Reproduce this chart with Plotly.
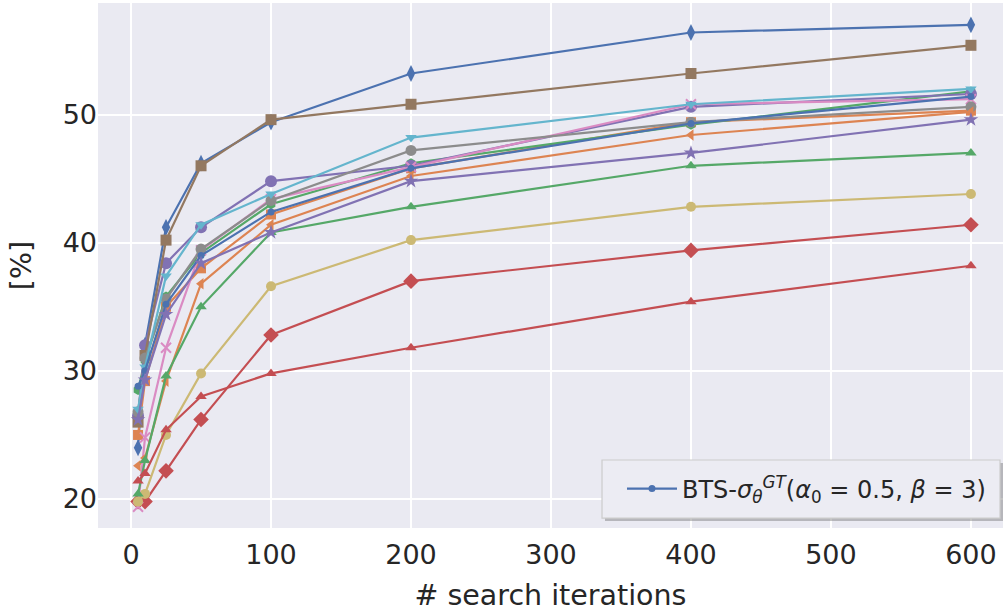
import plotly.graph_objects as go

iterations = [5, 10, 25, 50, 100, 200, 400, 600]

blue_d = [24.0, 32.0, 41.2, 46.2, 49.4, 53.2, 56.4, 57.0]
orange_sq = [25.0, 29.2, 35.0, 38.0, 42.2, 45.8, 49.4, 50.3]
green_h = [28.5, 30.8, 35.8, 39.2, 43.0, 46.2, 49.2, 51.8]
red_D = [19.8, 19.8, 22.2, 26.2, 32.8, 37.0, 39.4, 41.4]
purple_o = [26.5, 32.0, 38.4, 41.2, 44.8, 46.0, 50.6, 51.6]
brown_sq = [26.0, 31.2, 40.2, 46.0, 49.6, 50.8, 53.2, 55.4]
pink_x = [19.4, 24.8, 31.8, 39.4, 43.4, 45.9, 50.8, 51.2]
gray_o = [26.8, 31.0, 35.6, 39.5, 43.3, 47.2, 49.4, 50.6]
yellow_o = [19.8, 20.4, 25.0, 29.8, 36.6, 40.2, 42.8, 43.8]
cyan_v = [27.0, 30.3, 37.4, 41.4, 43.8, 48.2, 50.8, 52.0]
blue_dot = [28.8, 30.0, 35.2, 39.0, 42.4, 45.8, 49.3, 51.4]
orange_lt = [22.6, 23.2, 29.2, 36.8, 41.4, 45.2, 48.4, 50.2]
green_tri = [20.4, 23.0, 29.6, 35.0, 40.8, 42.8, 46.0, 47.0]
red_tri = [21.4, 22.0, 25.4, 28.0, 29.8, 31.8, 35.4, 38.2]
purple_star = [26.2, 29.3, 34.4, 38.4, 40.8, 44.8, 47.0, 49.6]

legend_label = ("BTS-<i>σ</i><sub><i>θ</i></sub><sup><i>GT</i></sup>"
                "(<i>α</i><sub>0</sub> = 0.5, <i>β</i> = 3)")

series = [
    (blue_d, "#4C72B0", "diamond-tall", 12, None),
    (orange_sq, "#DD8452", "square", 10, None),
    (green_h, "#55A868", "hexagon", 10, None),
    (red_D, "#C44E52", "diamond", 12, None),
    (purple_o, "#8172B3", "circle", 12, None),
    (brown_sq, "#937860", "square", 11, None),
    (pink_x, "#DA8BC3", "x-thin", 10, None),
    (gray_o, "#8C8C8C", "circle", 11, None),
    (yellow_o, "#CCB974", "circle", 10, None),
    (cyan_v, "#64B5CD", "triangle-down", 10, None),
    (blue_dot, "#4C72B0", "circle", 7, legend_label),
    (orange_lt, "#DD8452", "triangle-left", 10, None),
    (green_tri, "#55A868", "triangle-up", 10, None),
    (red_tri, "#C44E52", "triangle-up", 10, None),
    (purple_star, "#8172B3", "star", 11, None),
]

fig = go.Figure()
for vals, color, sym, size, name in series:
    fig.add_trace(go.Scatter(
        x=iterations, y=vals, mode="lines+markers",
        line=dict(color=color, width=2.2),
        marker=dict(symbol=sym, size=size, color=color,
                    line=dict(color=color, width=2 if sym == "x-thin" else 0)),
        name=name if name else "",
        showlegend=name is not None,
    ))

# legend frame (shadow + box) drawn behind the legend
fig.add_shape(type="rect", xref="paper", yref="paper",
              x0=0.5602, x1=1.0, y0=0.0133, y1=0.1238,
              fillcolor="rgba(120,120,120,0.45)", line=dict(width=0), layer="above")
fig.add_shape(type="rect", xref="paper", yref="paper",
              x0=0.5569, x1=0.9967, y0=0.019, y1=0.1295,
              fillcolor="rgba(236,236,243,1)", line=dict(color="#CCCCCC", width=1.2),
              layer="above")

fig.update_layout(
    width=1004, height=615,
    paper_bgcolor="white", plot_bgcolor="#EAEAF2",
    margin=dict(l=98, r=1, t=3, b=87, autoexpand=False),
    font=dict(family="DejaVu Sans", color="#262626"),
    xaxis=dict(range=[-23.6, 622.9], tickvals=[0, 100, 200, 300, 400, 500, 600],
               showgrid=True, gridcolor="white", gridwidth=2, zeroline=False,
               showline=False, tickfont=dict(size=27), ticks="", automargin=False,
               ticklabelstandoff=8,
               title=dict(text="# search iterations", font=dict(size=28.5), standoff=16)),
    yaxis=dict(range=[17.74, 58.7], tickvals=[20, 30, 40, 50],
               showgrid=True, gridcolor="white", gridwidth=2, zeroline=False,
               showline=False, tickfont=dict(size=27), ticks="", automargin=False,
               title=dict(text="[%]", font=dict(size=28.5), standoff=22)),
    legend=dict(x=0.579, y=0.0743, xanchor="left", yanchor="middle",
                bgcolor="rgba(0,0,0,0)", borderwidth=0,
                font=dict(size=24, color="#262626"), itemwidth=50),
)

fig.write_html("out.html", config={"displayModeBar": False},
               post_script="document.body.style.margin='0';")
